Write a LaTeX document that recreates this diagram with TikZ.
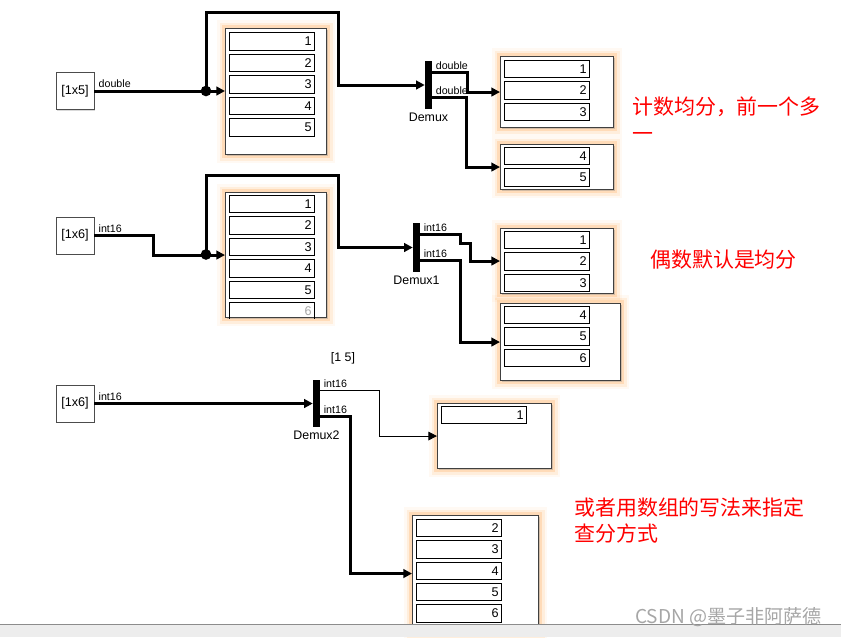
\documentclass[tikz,border=0pt]{standalone}
\usepackage{fontspec}
\setmainfont{Liberation Sans}
\newfontfamily\cjk{Noto Sans CJK SC}
\usepackage{xcolor}
\usetikzlibrary{positioning,arrows.meta,shadows}

\begin{document}
\begin{tikzpicture}[
    x=0.75pt,y=-0.75pt,
    src/.style={rectangle,draw=black!70,fill=white,line width=0.6pt,
                minimum width=28.5pt,minimum height=27.75pt,inner sep=0pt,
                font=\fontsize{9.5pt}{11pt}\selectfont,
                drop shadow={shadow xshift=1pt,shadow yshift=-1pt,opacity=0.3}},
    disp/.style={rectangle,draw=black!75,fill=white,line width=0.8pt,
                 anchor=north west,inner sep=0pt,
                 preaction={draw=orange!45,line width=13pt,opacity=0.1},
                 preaction={draw=orange!55,line width=9pt,opacity=0.18},
                 preaction={draw=orange!65,line width=5pt,opacity=0.28},
                 drop shadow={shadow xshift=1pt,shadow yshift=-1pt,opacity=0.35}},
    fld/.style={rectangle,draw,line width=0.6pt,minimum height=13.1pt,
                text width=60pt,inner xsep=2pt,inner ysep=0pt,outer sep=0pt,
                align=right,font=\fontsize{9.5pt}{10pt}\selectfont},
    bar/.style={rectangle,fill=black,minimum width=5.25pt,minimum height=36.5pt,inner sep=0pt},
    dot/.style={circle,fill=black,minimum size=8pt,inner sep=0pt},
    blk/.style={font=\fontsize{9.3pt}{11pt}\selectfont,inner sep=1pt},
    lbl/.style={font=\fontsize{8pt}{9pt}\selectfont,inner sep=1pt,anchor=south west},
    sig/.style={line width=2.25pt,-{Triangle[length=6.5pt,width=6.5pt]}},
    thin/.style={line width=0.75pt,-{Triangle[length=6.5pt,width=6.5pt]}},
    note/.style={text=red,font=\cjk\fontsize{15.7pt}{20pt}\selectfont,
                 align=left,anchor=north west,inner sep=0pt}]
\useasboundingbox (0,0) rectangle (841,637);

% first row
\node[src] (s1) at (75,91) {[1x5]};
\node[lbl] (s1l) at ([xshift=2pt,yshift=1pt]s1.east) {double};
\node[disp,minimum width=75.75pt,minimum height=94.5pt] (d1) at (225,28) {};
\node[fld,anchor=north west] (d1f1) at ([xshift=3pt,yshift=-3.5pt]d1.north west) {1};
\node[fld,below=3pt of d1f1] (d1f2) {2}; \node[fld,below=3pt of d1f2] (d1f3) {3};
\node[fld,below=3pt of d1f3] (d1f4) {4}; \node[fld,below=3pt of d1f4] (d1f5) {5};
\node[bar] (dmx) at (428.5,85) {};
\node[blk,below=1.5pt of dmx] (dmxl) {Demux};
\coordinate (dmxo1) at ([yshift=9.4pt]dmx.east);
\coordinate (dmxo2) at ([yshift=-9.4pt]dmx.east);
\node[lbl] (dmxl1) at ([xshift=1.5pt,yshift=1pt]dmxo1) {double};
\node[lbl] (dmxl2) at ([xshift=1.5pt,yshift=1pt]dmxo2) {double};
\node[disp,minimum width=84.75pt,minimum height=53.25pt] (d2) at (500,56) {};
\node[fld,anchor=north west] (d2f1) at ([xshift=3pt,yshift=-3pt]d2.north west) {1};
\node[fld,below=3pt of d2f1] (d2f2) {2}; \node[fld,below=3pt of d2f2] (d2f3) {3};
\node[disp,minimum width=84.75pt,minimum height=33.75pt] (d3) at (500,144) {};
\node[fld,anchor=north west] (d3f4) at ([xshift=3pt,yshift=-2.5pt]d3.north west) {4};
\node[fld,below=3pt of d3f4] (d3f5) {5};
\node[dot] (j1) at (206,91) {};
\draw[sig] (s1.east) -- (s1.east -| d1.west);
\draw[sig] (j1.center) |- ++(132,-79) |- (dmx.west);
\draw[sig] (dmxo1) -- ++(35,0) |- (d2.west);
\draw[sig] (dmxo2) -- ++(34,0) |- (d3.west);
\node[note] (n1) at (632,97) {计数均分，前一个多\\一};

% second row
\node[src] (s2) at (75,235.5) {[1x6]};
\node[lbl] (s2l) at ([xshift=2pt,yshift=1pt]s2.east) {int16};
\node[disp,minimum width=75.75pt,minimum height=93.75pt] (d4) at (225,192) {};
\node[fld,anchor=north west] (d4f1) at ([xshift=3pt,yshift=-2.5pt]d4.north west) {1};
\node[fld,below=3pt of d4f1] (d4f2) {2}; \node[fld,below=3pt of d4f2] (d4f3) {3};
\node[fld,below=3pt of d4f3] (d4f4) {4}; \node[fld,below=3pt of d4f4] (d4f5) {5};
\begin{scope}
\clip (d4.north west) rectangle (d4.south east);
\node[fld,below=3pt of d4f5,text=black!35] (d4f6) {6};
\end{scope}
\node[bar] (dmx1) at (416.5,247.5) {};
\node[blk,below=1.5pt of dmx1] (dmx1l) {Demux1};
\coordinate (dmx1o1) at ([yshift=9.75pt]dmx1.east);
\coordinate (dmx1o2) at ([yshift=-9.75pt]dmx1.east);
\node[lbl] (dmx1l1) at ([xshift=1.5pt,yshift=1pt]dmx1o1) {int16};
\node[lbl] (dmx1l2) at ([xshift=1.5pt,yshift=1pt]dmx1o2) {int16};
\node[disp,minimum width=84.75pt,minimum height=48.75pt] (d5) at (500,228) {};
\node[fld,anchor=north west] (d5f1) at ([xshift=3pt,yshift=-2.5pt]d5.north west) {1};
\node[fld,below=3pt of d5f1] (d5f2) {2}; \node[fld,below=3pt of d5f2] (d5f3) {3};
\node[disp,minimum width=90pt,minimum height=57.75pt] (d6) at (500,303) {};
\node[fld,anchor=north west] (d6f4) at ([xshift=3pt,yshift=-2.5pt]d6.north west) {4};
\node[fld,below=3pt of d6f4] (d6f5) {5}; \node[fld,below=3pt of d6f5] (d6f6) {6};
\node[dot] (j2) at (206,254.5) {};
\draw[sig] (s2.east) -- ++(59,0) |- (d4.west);
\draw[sig] (j2.center) |- ++(132,-79) |- (dmx1.west);
\draw[sig] (dmx1o1) -- ++(40,0) -- ++(0,9) -- ++(10,0) |- (d5.west);
\draw[sig] (dmx1o2) -- ++(40,0) |- (d6.west);
\node[note] (n2) at (650,250) {偶数默认是均分};

% third row
\node[src] (s3) at (75,403.5) {[1x6]};
\node[lbl] (s3l) at ([xshift=2pt,yshift=1pt]s3.east) {int16};
\node[bar,minimum height=35.25pt] (dmx2) at (316.5,403.5) {};
\node[blk,below=1.5pt of dmx2] (dmx2l) {Demux2};
\node[blk] (prm) at (343,358) {[1 5]};
\coordinate (dmx2o1) at ([yshift=9.4pt]dmx2.east);
\coordinate (dmx2o2) at ([yshift=-9.4pt]dmx2.east);
\node[lbl] (dmx2l1) at ([xshift=1.5pt,yshift=1pt]dmx2o1) {int16};
\node[lbl] (dmx2l2) at ([xshift=1.5pt,yshift=1pt]dmx2o2) {int16};
\node[disp,minimum width=85.5pt,minimum height=48.75pt] (d7) at (437,403) {};
\node[fld,anchor=north west] (d7f1) at ([xshift=3pt,yshift=-2.5pt]d7.north west) {1};
\node[disp,minimum width=94.5pt,minimum height=87pt] (d8) at (412,515) {};
\node[fld,anchor=north west] (d8f2) at ([xshift=3pt,yshift=-3pt]d8.north west) {2};
\node[fld,below=3pt of d8f2] (d8f3) {3}; \node[fld,below=3pt of d8f3] (d8f4) {4};
\node[fld,below=3pt of d8f4] (d8f5) {5}; \node[fld,below=3pt of d8f5] (d8f6) {6};
\draw[sig] (s3.east) -- (dmx2.west);
\draw[thin] (dmx2o1) -- ++(59,0) |- (d7.west);
\draw[sig] (dmx2o2) -- ++(30,0) |- (d8.west);
\node[note] (n3) at (574,497) {或者用数组的写法来指定\\查分方式};

\fill[black!7] (0,624) rectangle (841,637);
\draw[black!45,line width=0.75pt] (0,624) -- (841,624);
\node[text=black!35,font=\cjk\fontsize{14.3pt}{15pt}\selectfont,anchor=west,inner sep=0pt]
    (wm) at (635,617) {CSDN @墨子非阿萨德};
\end{tikzpicture}
\end{document}
